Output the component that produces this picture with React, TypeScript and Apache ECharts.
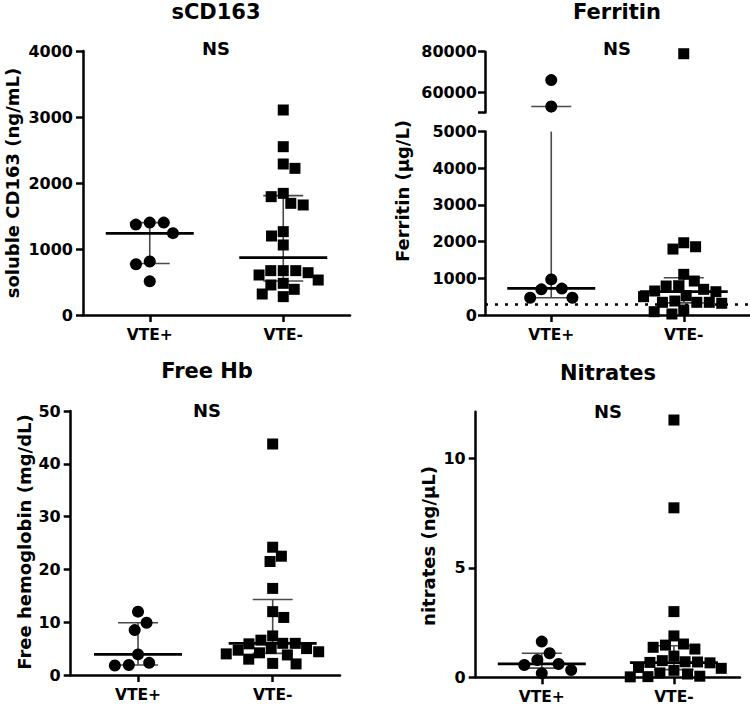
import React, { useEffect, useRef } from "react";
import * as echarts from "echarts";

// ---------- data ----------
const groups = ["VTE+", "VTE-"];

// sCD163 (ng/mL)
const scd163Pos = [1400, 1400, 1370, 1240, 810, 770, 510];
const scd163Neg = [3106, 2550, 2288, 2222, 1843, 1793, 1692, 1667, 1263, 1197, 1061, 672, 672, 672, 641, 606, 530, 480, 455, 389, 318, 278];
const scd163Median = [1237, 868];
const scd163Q1 = [780, 515];
const scd163Q3 = [1400, 1808];

// Ferritin (µg/L)
const ferritinPos = [66000, 53000, 970, 720, 700, 470, 470];
const ferritinNeg = [79000, 1970, 1861, 1798, 1109, 926, 798, 790, 700, 654, 635, 526, 499, 381, 346, 346, 346, 319, 136, 90, 27];
const ferritinMedian = [727, 635];
const ferritinQ1 = [471, 330];
const ferritinQ3 = [53000, 1017];
const ferritinRefLine = 300;
const ferritinLowTicks = [0, 1000, 2000, 3000, 4000, 5000];
const ferritinHighTicks = [60000, 80000];

// Free hemoglobin (mg/dL)
const hbPos = [12.0, 9.9, 8.5, 3.9, 2.3, 1.9, 1.8];
const hbNeg = [43.75, 24.2, 22.5, 21.5, 16.4, 12.0, 10.9, 7.4, 6.6, 6.0, 6.0, 5.9, 5.05, 5.0, 4.7, 4.4, 4.2, 4.0, 3.8, 3.0, 2.2, 2.1];
const hbMedian = [3.9, 6.0];
const hbQ1 = [1.9, 4.1];
const hbQ3 = [9.9, 14.3];

// Nitrates (ng/µL)
const nitPos = [1.63, 1.1, 0.79, 0.61, 0.56, 0.33, 0.18];
const nitNeg = [11.75, 7.74, 3.0, 1.89, 1.52, 1.47, 1.37, 1.29, 0.97, 0.76, 0.71, 0.7, 0.68, 0.66, 0.45, 0.41, 0.32, 0.2, 0.15, 0.05, 0.03, 0.02];
const nitMedian = [0.61, 0.67];
const nitQ1 = [0.42, 0.35];
const nitQ3 = [1.1, 1.44];
const nitTicks = [0, 5, 10];

// ---------- layout ----------
const FONT = "DejaVu Sans";
const grids = [
  { left: 83, top: 51, width: 267, height: 264 }, // sCD163
  { left: 485, top: 51.7, width: 265, height: 60.9 }, // ferritin upper
  { left: 485, top: 131.6, width: 265, height: 183.4 }, // ferritin lower
  { left: 70.7, top: 411, width: 269.3, height: 264 }, // free Hb
  { left: 475.7, top: 411.7, width: 264.3, height: 265.6 }, // nitrates
];
const ranges: [number, number][] = [
  [0, 4000],
  [50000, 80000],
  [0, 5000],
  [0, 50],
  [0, 12.13],
];

// beeswarm: greedy placement, closest to the centre line without overlapping
function swarm(values: number[], pxPerUnit: number, D: number): number[] {
  const idx = values.map((_, i) => i).sort((a, b) => values[b] - values[a]);
  const out = new Array(values.length).fill(0);
  const placed: { x: number; y: number }[] = [];
  let side = 1;
  for (const p of idx) {
    const y = values[p] * pxPerUnit;
    const forb: [number, number][] = [];
    for (const q of placed) {
      const dy = Math.abs(q.y - y);
      if (dy < D) {
        const w = Math.sqrt(D * D - dy * dy);
        forb.push([q.x - w, q.x + w]);
      }
    }
    const cands = [0];
    forb.forEach(([a, b]) => cands.push(a, b));
    const ok = (x: number) => forb.every(([a, b]) => x <= a + 1e-6 || x >= b - 1e-6);
    let best: number | null = null;
    for (const c of cands) {
      if (!ok(c)) continue;
      if (
        best === null ||
        Math.abs(c) < Math.abs(best) - 1e-6 ||
        (Math.abs(Math.abs(c) - Math.abs(best)) < 1e-6 && Math.sign(c) === side)
      ) {
        best = c;
      }
    }
    const x = best ?? 0;
    if (x !== 0) side = -Math.sign(x);
    placed.push({ x, y });
    out[p] = x;
  }
  return out;
}

function pxPer(g: number) {
  return grids[g].height / (ranges[g][1] - ranges[g][0]);
}

function scatterSeries(g: number, cat: number, values: number[], symbol: string, size: number, extra: any = {}) {
  const offs = swarm(values, pxPer(g), symbol === "circle" ? 14 : 12.5);
  return {
    type: "scatter",
    xAxisIndex: g,
    yAxisIndex: g,
    symbol,
    symbolSize: size,
    clip: false,
    z: 3,
    itemStyle: { color: "#000", opacity: 1 },
    data: values.map((v, i) => ({ value: [cat, v], symbolOffset: [offs[i], 0] })),
    ...extra,
  };
}

function errorSeries(g: number, med: number[], q1: number[], q3: number[]) {
  const [lo, hi] = ranges[g];
  return {
    type: "custom",
    xAxisIndex: g,
    yAxisIndex: g,
    z: 2,
    data: med.map((m, i) => [i, m, q1[i], q3[i]]),
    renderItem: (params: any, api: any) => {
      const cat = api.value(0);
      const m = api.value(1);
      const a = api.value(2);
      const b = api.value(3);
      const clamp = (v: number) => Math.min(hi, Math.max(lo, v));
      const children: any[] = [];
      const pTop = api.coord([cat, clamp(b)]);
      const pBot = api.coord([cat, clamp(a)]);
      const thin = { stroke: "#4a4a4a", lineWidth: 1.6 };
      if (clamp(b) > clamp(a)) {
        children.push({ type: "line", shape: { x1: pTop[0], y1: pTop[1], x2: pBot[0], y2: pBot[1] }, style: thin });
      }
      if (b >= lo && b <= hi) {
        children.push({ type: "line", shape: { x1: pTop[0] - 20, y1: pTop[1], x2: pTop[0] + 20, y2: pTop[1] }, style: thin });
      }
      if (a >= lo && a <= hi) {
        children.push({ type: "line", shape: { x1: pBot[0] - 20, y1: pBot[1], x2: pBot[0] + 20, y2: pBot[1] }, style: thin });
      }
      if (m >= lo && m <= hi) {
        const pm = api.coord([cat, m]);
        children.push({ type: "line", shape: { x1: pm[0] - 44, y1: pm[1], x2: pm[0] + 44, y2: pm[1] }, style: { stroke: "#000", lineWidth: 2.8 } });
      }
      return { type: "group", children };
    },
  };
}

const axisLineStyle = { show: true, lineStyle: { color: "#000", width: 2.5 } };
const tickStyle = { show: true, length: 7, lineStyle: { color: "#000", width: 2.5 } };
const labelFont = { color: "#000", fontFamily: FONT, fontWeight: "bold", fontSize: 16 };

function xAxis(g: number, show = true) {
  return {
    type: "category",
    gridIndex: g,
    data: groups,
    show,
    axisLine: axisLineStyle,
    axisTick: { ...tickStyle, alignWithLabel: true },
    axisLabel: { ...labelFont, fontSize: 15.5, margin: 12 },
    splitLine: { show: false },
  };
}

function yAxis(g: number, extra: any = {}) {
  return {
    type: "value",
    gridIndex: g,
    min: ranges[g][0],
    max: ranges[g][1],
    axisLine: axisLineStyle,
    axisTick: { ...tickStyle, ...(extra.axisTick || {}) },
    axisLabel: { ...labelFont, margin: 10, formatter: (v: number) => String(v), ...(extra.axisLabel || {}) },
    splitLine: { show: false },
    ...(extra.interval ? { interval: extra.interval } : {}),
  };
}

function text(x: number, y: number, t: string, size: number, rotation = 0) {
  return {
    type: "text",
    x,
    y,
    rotation,
    style: {
      text: t,
      fill: "#000",
      fontFamily: FONT,
      fontWeight: "bold",
      fontSize: size,
      align: "center",
      verticalAlign: "middle",
    },
  };
}

function splitFerritin(values: number[]) {
  return {
    high: values.filter((v) => v >= ranges[1][0]),
    low: values.filter((v) => v < ranges[1][0]),
  };
}

export default function App() {
  const ref = useRef<HTMLDivElement>(null);
  useEffect(() => {
    if (!ref.current) return;
    const chart = echarts.init(ref.current, undefined, { renderer: "svg" });
    const fPos = splitFerritin(ferritinPos);
    const fNeg = splitFerritin(ferritinNeg);
    const option: any = {
      animation: false,
      backgroundColor: "#fff",
      grid: grids.map((g) => ({ ...g, containLabel: false })),
      xAxis: [xAxis(0), xAxis(1, false), xAxis(2), xAxis(3), xAxis(4)],
      yAxis: [
        yAxis(0, { interval: 1000 }),
        yAxis(1, {
          axisTick: { customValues: [50000, ...ferritinHighTicks] },
          axisLabel: { customValues: ferritinHighTicks, margin: 8 },
        }),
        yAxis(2, {
          axisTick: { customValues: ferritinLowTicks },
          axisLabel: { customValues: ferritinLowTicks, margin: 8 },
        }),
        yAxis(3, { interval: 10 }),
        yAxis(4, {
          axisTick: { customValues: nitTicks },
          axisLabel: { customValues: nitTicks },
        }),
      ],
      series: [
        errorSeries(0, scd163Median, scd163Q1, scd163Q3),
        scatterSeries(0, 0, scd163Pos, "circle", 12),
        scatterSeries(0, 1, scd163Neg, "rect", 11),

        errorSeries(1, ferritinMedian, ferritinQ1, ferritinQ3),
        scatterSeries(1, 0, fPos.high, "circle", 12),
        scatterSeries(1, 1, fNeg.high, "rect", 11),
        errorSeries(2, ferritinMedian, ferritinQ1, ferritinQ3),
        scatterSeries(2, 0, fPos.low, "circle", 12, {
          markLine: {
            silent: true,
            symbol: "none",
            z: 1,
            label: { show: false },
            lineStyle: { color: "#000", width: 2.5, type: [3, 7] },
            data: [{ yAxis: ferritinRefLine }],
          },
        }),
        scatterSeries(2, 1, fNeg.low, "rect", 11),

        errorSeries(3, hbMedian, hbQ1, hbQ3),
        scatterSeries(3, 0, hbPos, "circle", 12),
        scatterSeries(3, 1, hbNeg, "rect", 11),

        errorSeries(4, nitMedian, nitQ1, nitQ3),
        scatterSeries(4, 0, nitPos, "circle", 12),
        scatterSeries(4, 1, nitNeg, "rect", 11),
      ],
      graphic: [
        text(216, 12, "sCD163", 21),
        text(216, 48, "NS", 18),
        text(12, 183, "soluble CD163 (ng/mL)", 18, Math.PI / 2),

        text(617, 12, "Ferritin", 21),
        text(617, 48, "NS", 18),
        text(402, 191, "Ferritin (µg/L)", 18, Math.PI / 2),

        text(207, 371, "Free Hb", 21),
        text(207, 410, "NS", 18),
        text(24, 542, "Free hemoglobin (mg/dL)", 18, Math.PI / 2),

        text(608, 373, "Nitrates", 21),
        text(608, 411, "NS", 18),
        text(428, 546, "nitrates (ng/µL)", 18, Math.PI / 2),
      ],
    };
    chart.setOption(option);
    return () => chart.dispose();
  }, []);
  return (
    <div
      ref={ref}
      style={{ position: "absolute", left: 0, top: 0, width: 750, height: 706, background: "#fff" }}
    />
  );
}
